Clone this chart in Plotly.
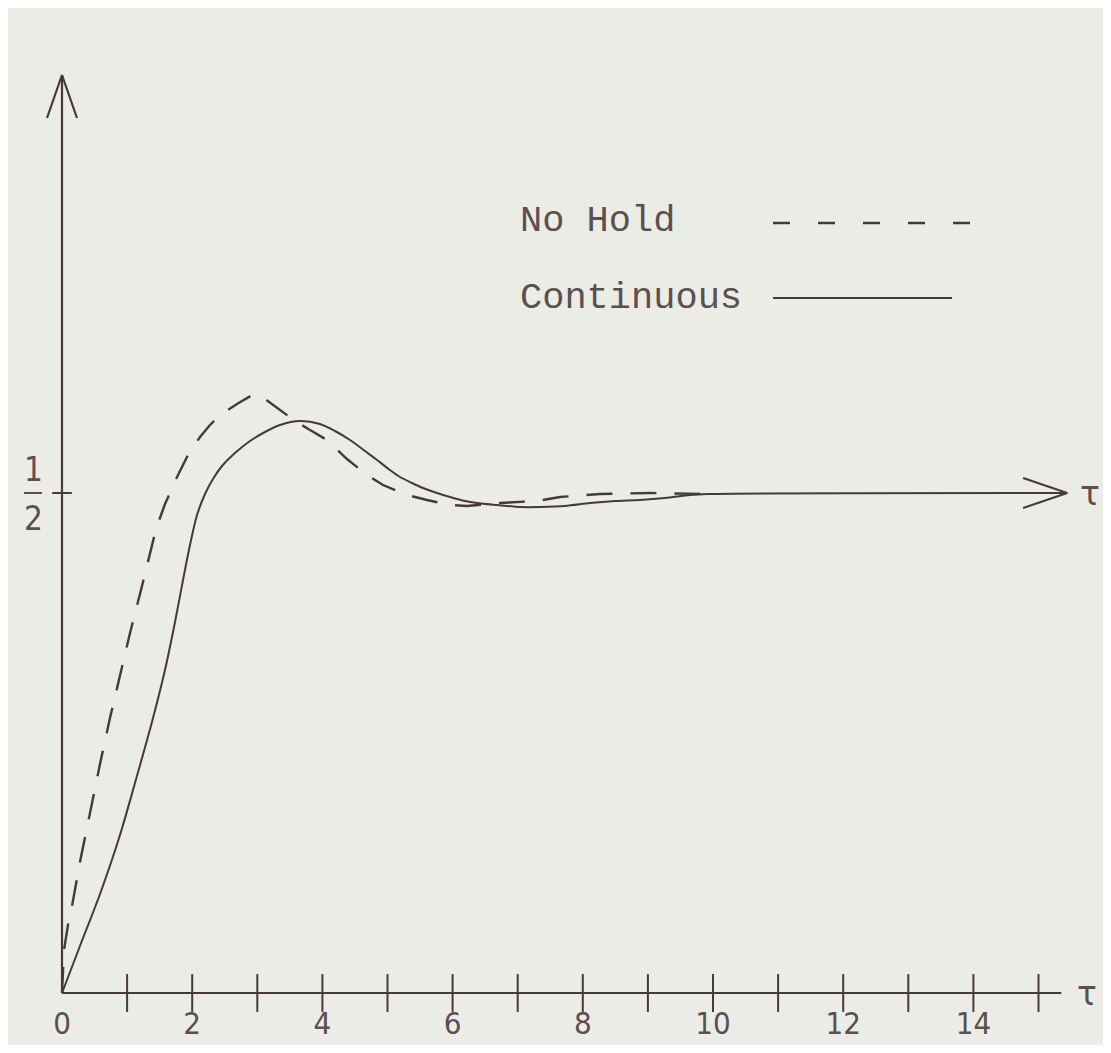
import plotly.graph_objects as go

# ---------------- data ----------------
tau_nohold = [0.000, 0.015, 0.031, 0.092, 0.154, 0.276, 0.430, 0.584, 0.737, 0.891, 1.045,
              1.229, 1.352, 1.429, 1.505, 1.582, 1.659, 1.767, 1.935, 2.120, 2.273, 2.427,
              2.688, 2.949, 3.118, 3.349, 3.579, 3.810, 4.071, 4.378, 4.685, 4.931, 5.300,
              5.607, 5.960, 6.221, 6.728, 7.296, 7.650, 8.264, 9.032, 9.877]
resp_nohold = [0.000, 0.018, 0.043, 0.068, 0.087, 0.131, 0.181, 0.229, 0.275, 0.319, 0.360,
               0.407, 0.440, 0.460, 0.475, 0.489, 0.500, 0.516, 0.538, 0.556, 0.568, 0.578,
               0.589, 0.599, 0.594, 0.583, 0.572, 0.563, 0.553, 0.534, 0.518, 0.508, 0.498,
               0.493, 0.488, 0.487, 0.490, 0.492, 0.496, 0.499, 0.500, 0.499]

tau_cont = [0.000, 0.276, 0.584, 0.891, 1.121, 1.382, 1.582, 1.736, 1.859, 1.966, 2.074,
            2.197, 2.319, 2.458, 2.657, 2.888, 3.118, 3.349, 3.656, 3.963, 4.194, 4.424,
            4.654, 4.839, 5.038, 5.192, 5.376, 5.545, 5.760, 5.960, 6.190, 6.375, 6.682,
            7.035, 7.343, 7.727, 8.111, 8.495, 8.879, 9.263, 9.647, 9.908, 15.44]
resp_cont = [0.000, 0.047, 0.099, 0.158, 0.210, 0.271, 0.323, 0.371, 0.413, 0.448, 0.478,
             0.499, 0.514, 0.527, 0.540, 0.552, 0.561, 0.568, 0.572, 0.569, 0.562, 0.553,
             0.542, 0.533, 0.523, 0.516, 0.510, 0.505, 0.500, 0.496, 0.492, 0.490, 0.488,
             0.486, 0.486, 0.487, 0.490, 0.492, 0.493, 0.495, 0.498, 0.499, 0.500]

x_minor_ticks = list(range(1, 16))
x_label_pos = [0, 2, 4, 6, 8, 10, 12, 14]
x_labels = ["0", "2", "4", "6", "8", "10", "12", "14"]
y_half = 0.5
x_axis_end = 15.35
y_axis_end = 0.918
legend_names = ["No Hold", "Continuous"]

# ---------------- geometry ----------------
W, H = 1111, 1053
BODY = 8                      # default page margin around the plot div
FW, FH = W - 2 * BODY, H - 2 * BODY
X0_PX, UX = 62, 65.1          # page px of tau=0 and px per tau unit
Y0_PX, UY = 993, 1000         # page px of 0 and px per unit
xr = [(BODY - X0_PX) / UX, (BODY + FW - X0_PX) / UX]
yr = [(Y0_PX - (BODY + FH)) / UY, (Y0_PX - BODY) / UY]


def px_x(p):
    return (p - X0_PX) / UX


def px_y(p):
    return (Y0_PX - p) / UY


INK = "#463939"
TEXT = "#5b4f4f"
PAPER = "#ececE7"
MONO = "Liberation Mono, Courier New, monospace"
NARROW = "Liberation Sans Narrow, DejaVu Sans Condensed, sans-serif"

fig = go.Figure()

# axes
fig.add_trace(go.Scatter(x=[0, x_axis_end], y=[0, 0], mode="lines",
                         line=dict(color=INK, width=2.2), hoverinfo="skip"))
fig.add_trace(go.Scatter(x=[0, 0], y=[0, y_axis_end], mode="lines",
                         line=dict(color=INK, width=2.2), hoverinfo="skip"))
# y-axis arrowhead
ah_dx, ah_dy = 15 / UX, 43 / UY
fig.add_trace(go.Scatter(x=[-ah_dx, 0, ah_dx], y=[y_axis_end - ah_dy, y_axis_end, y_axis_end - ah_dy],
                         mode="lines", line=dict(color=INK, width=2.2), hoverinfo="skip"))

# x ticks crossing the axis
fig.add_trace(go.Scatter(x=x_minor_ticks, y=[0] * len(x_minor_ticks), mode="markers",
                         marker=dict(symbol="line-ns", size=27, line=dict(color=INK, width=2)),
                         hoverinfo="skip"))
# y tick at 1/2
fig.add_trace(go.Scatter(x=[0], y=[y_half], mode="markers",
                         marker=dict(symbol="line-ew", size=14, line=dict(color=INK, width=2)),
                         hoverinfo="skip"))

# tick labels
fig.add_trace(go.Scatter(x=x_label_pos, y=[px_y(1026)] * len(x_label_pos), mode="text",
                         text=x_labels, textfont=dict(family=NARROW, size=31, color=TEXT),
                         cliponaxis=False, hoverinfo="skip"))

# curves
fig.add_trace(go.Scatter(x=tau_nohold, y=resp_nohold, mode="lines", name=legend_names[0],
                         line=dict(color=INK, width=2.4, dash="26px,18px")))
fig.add_trace(go.Scatter(x=tau_cont, y=resp_cont, mode="lines", name=legend_names[1],
                         line=dict(color=INK, width=2.0, shape="spline", smoothing=0.8)))

# arrowhead of tau axis at 1/2
tip = tau_cont[-1]
a_dx, a_dy = 44 / UX, 15 / UY
fig.add_trace(go.Scatter(x=[tip - a_dx, tip, tip - a_dx], y=[y_half + a_dy, y_half, y_half - a_dy],
                         mode="lines", line=dict(color=INK, width=2.2), hoverinfo="skip"))

annotations = [
    dict(x=px_x(1087), y=0, text="τ", showarrow=False, xanchor="center", yanchor="middle",
         font=dict(family="DejaVu Sans", size=33, color=TEXT)),
    dict(x=px_x(1090), y=y_half, text="τ", showarrow=False, xanchor="center", yanchor="middle",
         font=dict(family="DejaVu Sans", size=33, color=TEXT)),
    dict(x=px_x(33), y=px_y(469), text="1", showarrow=False, xanchor="center", yanchor="middle",
         font=dict(family=NARROW, size=33, color=TEXT)),
    dict(x=px_x(33), y=px_y(518), text="2", showarrow=False, xanchor="center", yanchor="middle",
         font=dict(family=NARROW, size=33, color=TEXT)),
    dict(x=px_x(518), y=px_y(221), text=legend_names[0], showarrow=False, xanchor="left",
         yanchor="middle", font=dict(family=MONO, size=37, color=TEXT)),
    dict(x=px_x(518), y=px_y(298), text=legend_names[1], showarrow=False, xanchor="left",
         yanchor="middle", font=dict(family=MONO, size=37, color=TEXT)),
]

shapes = [
    dict(type="line", xref="x", yref="y", x0=px_x(24), x1=px_x(42), y0=y_half, y1=y_half,
         line=dict(color=TEXT, width=2)),
    dict(type="line", xref="x", yref="y", x0=px_x(773), x1=px_x(971), y0=px_y(223), y1=px_y(223),
         line=dict(color=INK, width=2.4, dash="17px,28px")),
    dict(type="line", xref="x", yref="y", x0=px_x(773), x1=px_x(952), y0=px_y(298), y1=px_y(298),
         line=dict(color=INK, width=2)),
]

fig.update_layout(
    width=FW, height=FH,
    margin=dict(l=0, r=0, t=0, b=0),
    paper_bgcolor=PAPER, plot_bgcolor=PAPER,
    showlegend=False,
    xaxis=dict(range=xr, visible=False, fixedrange=True),
    yaxis=dict(range=yr, visible=False, fixedrange=True),
    annotations=annotations,
    shapes=shapes,
)

fig.write_html("out.html")
